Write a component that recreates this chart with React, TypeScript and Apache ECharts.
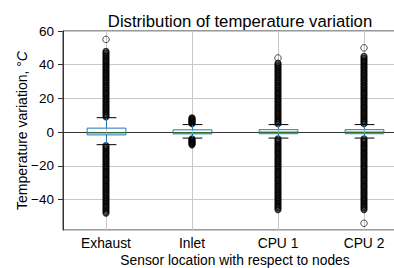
import React, { useEffect, useRef } from 'react';
import * as echarts from 'echarts';

const categories = ['Exhaust', 'Inlet', 'CPU 1', 'CPU 2'];
const yTicks = [-40, -20, 0, 20, 40, 60];
const yMin = -58;
const yMax = 60;

// [lower whisker, Q1, median, Q3, upper whisker]
const exhaustBox = [-7.4, -1.6, -0.5, 2.4, 8.6];
const inletBox = [-3.5, -1.0, -0.5, 1.4, 4.5];
const cpu1Box = [-3.5, -0.9, 0.1, 1.5, 4.5];
const cpu2Box = [-3.5, -0.9, 0.1, 1.5, 4.5];

// dense outlier columns
const exhaustOutliers = [
  9, 10, 11, 12, 13, 14, 15, 16, 17, 18, 19, 20, 21, 22, 23, 24, 25, 26, 27, 28,
  29, 30, 31, 32, 33, 34, 35, 36, 37, 38, 39, 40, 41, 42, 43, 44, 45, 46, 47, 48,
  -8, -9, -10, -11, -12, -13, -14, -15, -16, -17, -18, -19, -20, -21, -22, -23, -24,
  -25, -26, -27, -28, -29, -30, -31, -32, -33, -34, -35, -36, -37, -38, -39, -40,
  -41, -42, -43, -44, -45, -46, -47, -48,
];
const inletOutliers = [
  5, 5.5, 6, 6.5, 7, 7.5, 8, 8.5,
  -4, -4.5, -5, -5.5, -6, -6.5, -7, -7.5,
];
const cpu1Outliers = [
  5, 6, 7, 8, 9, 10, 11, 12, 13, 14, 15, 16, 17, 18, 19, 20, 21, 22, 23, 24, 25,
  26, 27, 28, 29, 30, 31, 32, 33, 34, 35, 36, 37, 38, 39, 40, 41,
  -4, -5, -6, -7, -8, -9, -10, -11, -12, -13, -14, -15, -16, -17, -18, -19, -20,
  -21, -22, -23, -24, -25, -26, -27, -28, -29, -30, -31, -32, -33, -34, -35, -36,
  -37, -38, -39, -40, -41, -42, -43, -44, -45, -46,
];
const cpu2Outliers = [
  5, 6, 7, 8, 9, 10, 11, 12, 13, 14, 15, 16, 17, 18, 19, 20, 21, 22, 23, 24, 25,
  26, 27, 28, 29, 30, 31, 32, 33, 34, 35, 36, 37, 38, 39, 40, 41, 42, 43, 44, 45,
  -4, -5, -6, -7, -8, -9, -10, -11, -12, -13, -14, -15, -16, -17, -18, -19, -20,
  -21, -22, -23, -24, -25, -26, -27, -28, -29, -30, -31, -32, -33, -34, -35, -36,
  -37, -38, -39, -40, -41, -42, -43, -44, -45, -46,
];
// isolated extreme outliers
const exhaustFar = [55];
const inletFar: number[] = [];
const cpu1Far = [44];
const cpu2Far = [50, -54];

const boxes = [exhaustBox, inletBox, cpu1Box, cpu2Box];
const outliers = [exhaustOutliers, inletOutliers, cpu1Outliers, cpu2Outliers];
const farOutliers = [exhaustFar, inletFar, cpu1Far, cpu2Far];

const BLUE = '#1f77b4';
const GREEN = '#2ca02c';
const FONT = '"Liberation Sans", Arial, sans-serif';

export default function App() {
  const ref = useRef<HTMLDivElement>(null);
  useEffect(() => {
    if (!ref.current) return;
    const chart = echarts.init(ref.current, undefined, { renderer: 'svg' });
    const boxData = boxes.map((b, i) => [i, ...b]);
    const outData: number[][] = [];
    outliers.forEach((arr, i) => arr.forEach((v) => outData.push([i, v])));
    const farData: number[][] = [];
    farOutliers.forEach((arr, i) => arr.forEach((v) => farData.push([i, v])));
    chart.setOption({
      animation: false,
      backgroundColor: '#fff',
      title: {
        text: 'Distribution of temperature variation',
        left: 235,
        textAlign: 'center',
        top: 8,
        textStyle: { fontFamily: FONT, fontSize: 16.7, fontWeight: 'normal', color: '#000' },
      },
      grid: {
        left: 63,
        right: -13,
        top: 31,
        bottom: 38,
        show: true,
        borderColor: '#333',
        borderWidth: 1,
        outerBoundsMode: 'none',
        containLabel: false,
      },
      xAxis: {
        type: 'category',
        data: categories,
        boundaryGap: true,
        name: 'Sensor location with respect to nodes',
        nameLocation: 'middle',
        nameGap: 23,
        nameMoveOverlap: false,
        nameTextStyle: { fontFamily: FONT, fontSize: 13.8, color: '#000' },
        axisLine: { show: true, lineStyle: { color: '#333', width: 1 } },
        axisTick: { show: false },
        axisLabel: { fontFamily: FONT, fontSize: 13.8, color: '#000', margin: 6 },
        splitLine: { show: false },
      },
      yAxis: {
        type: 'value',
        min: yMin,
        max: yMax,
        splitNumber: 6,
        minInterval: 20,
        maxInterval: 20,
        name: 'Temperature variation, °{it|C}',
        nameLocation: 'middle',
        nameGap: 34,
        nameMoveOverlap: false,
        nameTextStyle: {
          fontFamily: FONT,
          fontSize: 14,
          color: '#000',
          rich: { it: { fontFamily: FONT, fontSize: 14, fontStyle: 'italic', color: '#000' } },
        },
        axisLine: { show: true, lineStyle: { color: '#333', width: 1 } },
        axisTick: { show: true, length: 5, lineStyle: { color: '#333' } },
        axisLabel: {
          fontFamily: FONT,
          fontSize: 13.5,
          color: '#000',
          margin: 9,
          showMinLabel: false,
          formatter: (v: number) =>
            yTicks.includes(v) ? (v < 0 ? '\u2212' + Math.abs(v) : String(v)) : '',
        },
        splitLine: { show: true, lineStyle: { color: '#c8c8c8', width: 1 } },
      },
      series: [
        {
          type: 'custom',
          z: 1,
          silent: true,
          data: categories.map((c, i) => [i, yMin, yMax]),
          encode: { x: 0, y: [1, 2] },
          renderItem: (params: any, api: any) => {
            const i = api.value(0);
            const p1 = api.coord([i, yMax]);
            const p2 = api.coord([i, yMin]);
            return {
              type: 'line',
              shape: { x1: Math.round(p1[0]) + 0.5, y1: p1[1], x2: Math.round(p1[0]) + 0.5, y2: p2[1] },
              style: { stroke: '#c8c8c8', lineWidth: 1 },
            };
          },
        },
        {
          type: 'scatter',
          z: 3,
          data: outData,
          symbol: 'circle',
          symbolSize: 5.5,
          itemStyle: { color: 'rgba(0,0,0,0)', borderColor: '#000', borderWidth: 1.6 },
        },
        {
          type: 'scatter',
          z: 3,
          data: farData,
          symbol: 'circle',
          symbolSize: 6.5,
          itemStyle: { color: 'rgba(0,0,0,0)', borderColor: '#222', borderWidth: 1 },
        },
        {
          type: 'custom',
          z: 4,
          data: boxData,
          encode: { x: 0, y: [1, 2, 3, 4, 5] },
          renderItem: (params: any, api: any) => {
            const i = api.value(0);
            const lo = api.coord([i, api.value(1)]);
            const q1 = api.coord([i, api.value(2)]);
            const med = api.coord([i, api.value(3)]);
            const q3 = api.coord([i, api.value(4)]);
            const hi = api.coord([i, api.value(5)]);
            const band = api.size([1, 0])[0];
            const hw = band * 0.225;
            const cw = band * 0.115;
            const cx = Math.round(lo[0]) + 0.5;
            return {
              type: 'group',
              children: [
                { type: 'line', shape: { x1: cx, y1: q3[1], x2: cx, y2: hi[1] }, style: { stroke: BLUE, lineWidth: 1 } },
                { type: 'line', shape: { x1: cx, y1: q1[1], x2: cx, y2: lo[1] }, style: { stroke: BLUE, lineWidth: 1 } },
                { type: 'line', shape: { x1: cx - cw, y1: hi[1], x2: cx + cw, y2: hi[1] }, style: { stroke: '#000', lineWidth: 1 } },
                { type: 'line', shape: { x1: cx - cw, y1: lo[1], x2: cx + cw, y2: lo[1] }, style: { stroke: '#000', lineWidth: 1 } },
                {
                  type: 'rect',
                  shape: { x: cx - hw, y: q3[1], width: 2 * hw, height: q1[1] - q3[1] },
                  style: { fill: 'none', stroke: BLUE, lineWidth: 1 },
                },
                { type: 'line', shape: { x1: cx - hw, y1: med[1], x2: cx + hw, y2: med[1] }, style: { stroke: GREEN, lineWidth: 1 } },
              ],
            };
          },
        },
      ],
    });
    return () => chart.dispose();
  }, []);
  return <div ref={ref} style={{ position: 'fixed', left: 0, top: 0, width: 394, height: 268 }} />;
}
